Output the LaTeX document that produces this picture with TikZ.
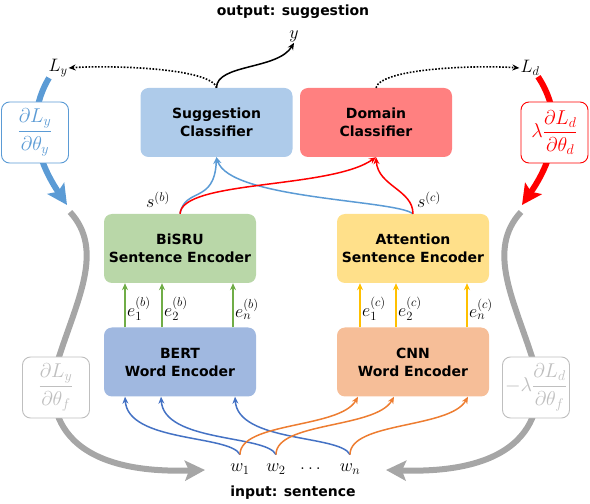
\RequirePackage{fix-cm}
\documentclass[tikz,border=0pt]{standalone}
\usepackage{amsmath}
\usepackage{fontspec}
\newfontfamily\boxfont{DejaVu Sans}
\usetikzlibrary{arrows.meta}
\definecolor{suggcol}{RGB}{174,203,234}
\definecolor{domcol}{RGB}{255,128,128}
\definecolor{bisrucol}{RGB}{185,215,168}
\definecolor{attcol}{RGB}{255,224,138}
\definecolor{bertcol}{RGB}{160,184,224}
\definecolor{cnncol}{RGB}{246,190,152}
\definecolor{lblue}{RGB}{91,155,213}
\definecolor{wblue}{RGB}{68,114,196}
\definecolor{worange}{RGB}{237,125,49}
\definecolor{egreen}{RGB}{112,173,71}
\definecolor{eyellow}{RGB}{255,192,0}
\definecolor{thickgray}{RGB}{166,166,166}
\definecolor{boxgray}{RGB}{191,191,191}
\begin{document}
\begin{tikzpicture}[x=1pt,y=1pt,
		module/.style={rounded corners=8pt,minimum width=152pt,minimum height=69pt,inner sep=0pt,align=center,font={\boxfont\bfseries\fontsize{14}{18}\selectfont}},
		grad/.style={draw,fill=white,line width=0.9pt,rounded corners=8pt,minimum width=67pt,minimum height=61pt,inner sep=0pt,font={\fontsize{20}{24}\selectfont}},
		lab/.style={inner sep=1pt,font={\fontsize{18}{22}\selectfont}},
		title/.style={font={\boxfont\bfseries\fontsize{14}{18}\selectfont}},
		flow/.style={line width=6pt,-{Stealth[length=20pt,width=20pt,inset=4pt]}},
		conn/.style={line width=1.5pt,-{Stealth[length=7pt,width=6pt]}},
		lossarrow/.style={line width=1.6pt,dash pattern=on 1.6pt off 1.6pt,-{Stealth[length=7pt,width=6pt]}}
		]
		\useasboundingbox (0,0) rectangle (590,504);
		\def\yb{255.5}%hang encoder cau
		\def\yw{142}%hang encoder tu
		% cac khoi
		\node[module,fill=suggcol] (sugg) at (216.5,381.5) {Suggestion\\Classifier};
		\node[module,fill=domcol] (dom) at (376,381.5) {Domain\\Classifier};
		\node[module,fill=bisrucol] (bisru) at (180,\yb) {BiSRU\\Sentence Encoder};
		\node[module,fill=attcol] (att) at (413,\yb) {Attention\\Sentence Encoder};
		\node[module,fill=bertcol] (bert) at (180,\yw) {BERT\\Word Encoder};
		\node[module,fill=cnncol] (cnn) at (413,\yw) {CNN\\Word Encoder};
		% nhan
		\node[title] (outlab) at (293,492) {output: suggestion};
		\node[title] (inlab) at (293,11) {input: sentence};
		\node[lab] (ylab) at (294,468) {$y$};
		\node[lab] (Ly) at (58,436) {$L_y$};
		\node[lab] (Ld) at (530,436) {$L_d$};
		\node[lab] (sb) at (158,304) {$s^{(b)}$};
		\node[lab] (sc) at (429,304) {$s^{(c)}$};
		\node[lab] (w1) at (240,35) {$w_1$};
		\node[lab] (w2) at (276,35) {$w_2$};
		\node[lab] (wdots) at (312,35) {$\dots$};
		\node[lab] (wn) at (350,35) {$w_n$};
		% mui ten gradient
		\coordinate (gyend) at (67,299);
		\coordinate (gdend) at (522,299);
		\coordinate (gfyst) at (70,292);
		\coordinate (gfdst) at (521,292);
		\coordinate (gfyend) at (205,34);
		\coordinate (gfdend) at (386,34);
		\draw[flow,lblue] ([xshift=-9pt]Ly.south) .. controls (30,394) and (30,354) .. (gyend);
		\draw[flow,red] ([xshift=8pt]Ld.south) .. controls (560,394) and (560,354) .. (gdend);
		\draw[flow,thickgray] (gfyst) .. controls (105,254) and (77,204) .. (58,144) .. controls (45,104) and (50,29) .. (gfyend);
		\draw[flow,thickgray] (gfdst) .. controls (486,254) and (514,204) .. (533,144) .. controls (546,104) and (541,29) .. (gfdend);
		\node[grad,draw=lblue,text=lblue] (gy) at (35,371.5) {$\dfrac{\partial L_y}{\partial\theta_y}$};
		\node[grad,draw=red,text=red] (gd) at (554.5,371.5) {$\lambda\dfrac{\partial L_d}{\partial\theta_d}$};
		\node[grad,draw=boxgray,text=boxgray] (gfy) at (56,116.5) {$\dfrac{\partial L_y}{\partial\theta_f}$};
		\node[grad,draw=boxgray,text=boxgray] (gfd) at (536,116.5) {$-\lambda\dfrac{\partial L_d}{\partial\theta_f}$};
		% dau ra
		\draw[lossarrow] (sugg.north) .. controls +(-5,20) and +(40,3) .. (Ly.east);
		\draw[lossarrow] (dom.north) .. controls +(5,20) and +(-40,3) .. (Ld.west);
		\draw[conn] (sugg.north) .. controls +(0,24) and +(-16,-27) .. (ylab.south);
		% encoder cau -> classifier
		\draw[conn,lblue] (bisru.north) .. controls +(5,27) and +(-2,-47) .. (sugg.south);
		\draw[conn,lblue] (att.north) .. controls +(-17,14) and +(13,-42) .. (sugg.south);
		\draw[conn,red] (bisru.north) .. controls +(2,34) and +(-46,-32) .. (dom.south);
		\draw[conn,red] (att.north) .. controls +(0,24) and +(2,-29) .. (dom.south);
		% encoder tu -> encoder cau
		\foreach \x/\i in {125/1,162/2,233/n}{
			\draw[conn,egreen] (\x,0 |- bert.north) -- (\x,0 |- bisru.south);
			\node[lab,anchor=west] (eb\i) at (\x+1,195) {$e_{\i}^{(b)}$};
		}
		\foreach \x/\i in {360/1,396/2,467/n}{
			\draw[conn,eyellow] (\x,0 |- cnn.north) -- (\x,0 |- att.south);
			\node[lab,anchor=west] (ec\i) at (\x+1,195) {$e_{\i}^{(c)}$};
		}
		% tu -> encoder tu
		\foreach \w/\x in {w1/125,w2/161,wn/235}
			\draw[conn,wblue] ([yshift=8pt]\w.north) .. controls +(-10,20) and +(3,-46) .. (\x,0 |- bert.south);
		\foreach \w/\x in {w1/358,w2/394,wn/468}
			\draw[conn,worange] ([yshift=8pt]\w.north) .. controls +(0,33) and +(-18,-32) .. (\x,0 |- cnn.south);
		\end{tikzpicture}
\end{document}
